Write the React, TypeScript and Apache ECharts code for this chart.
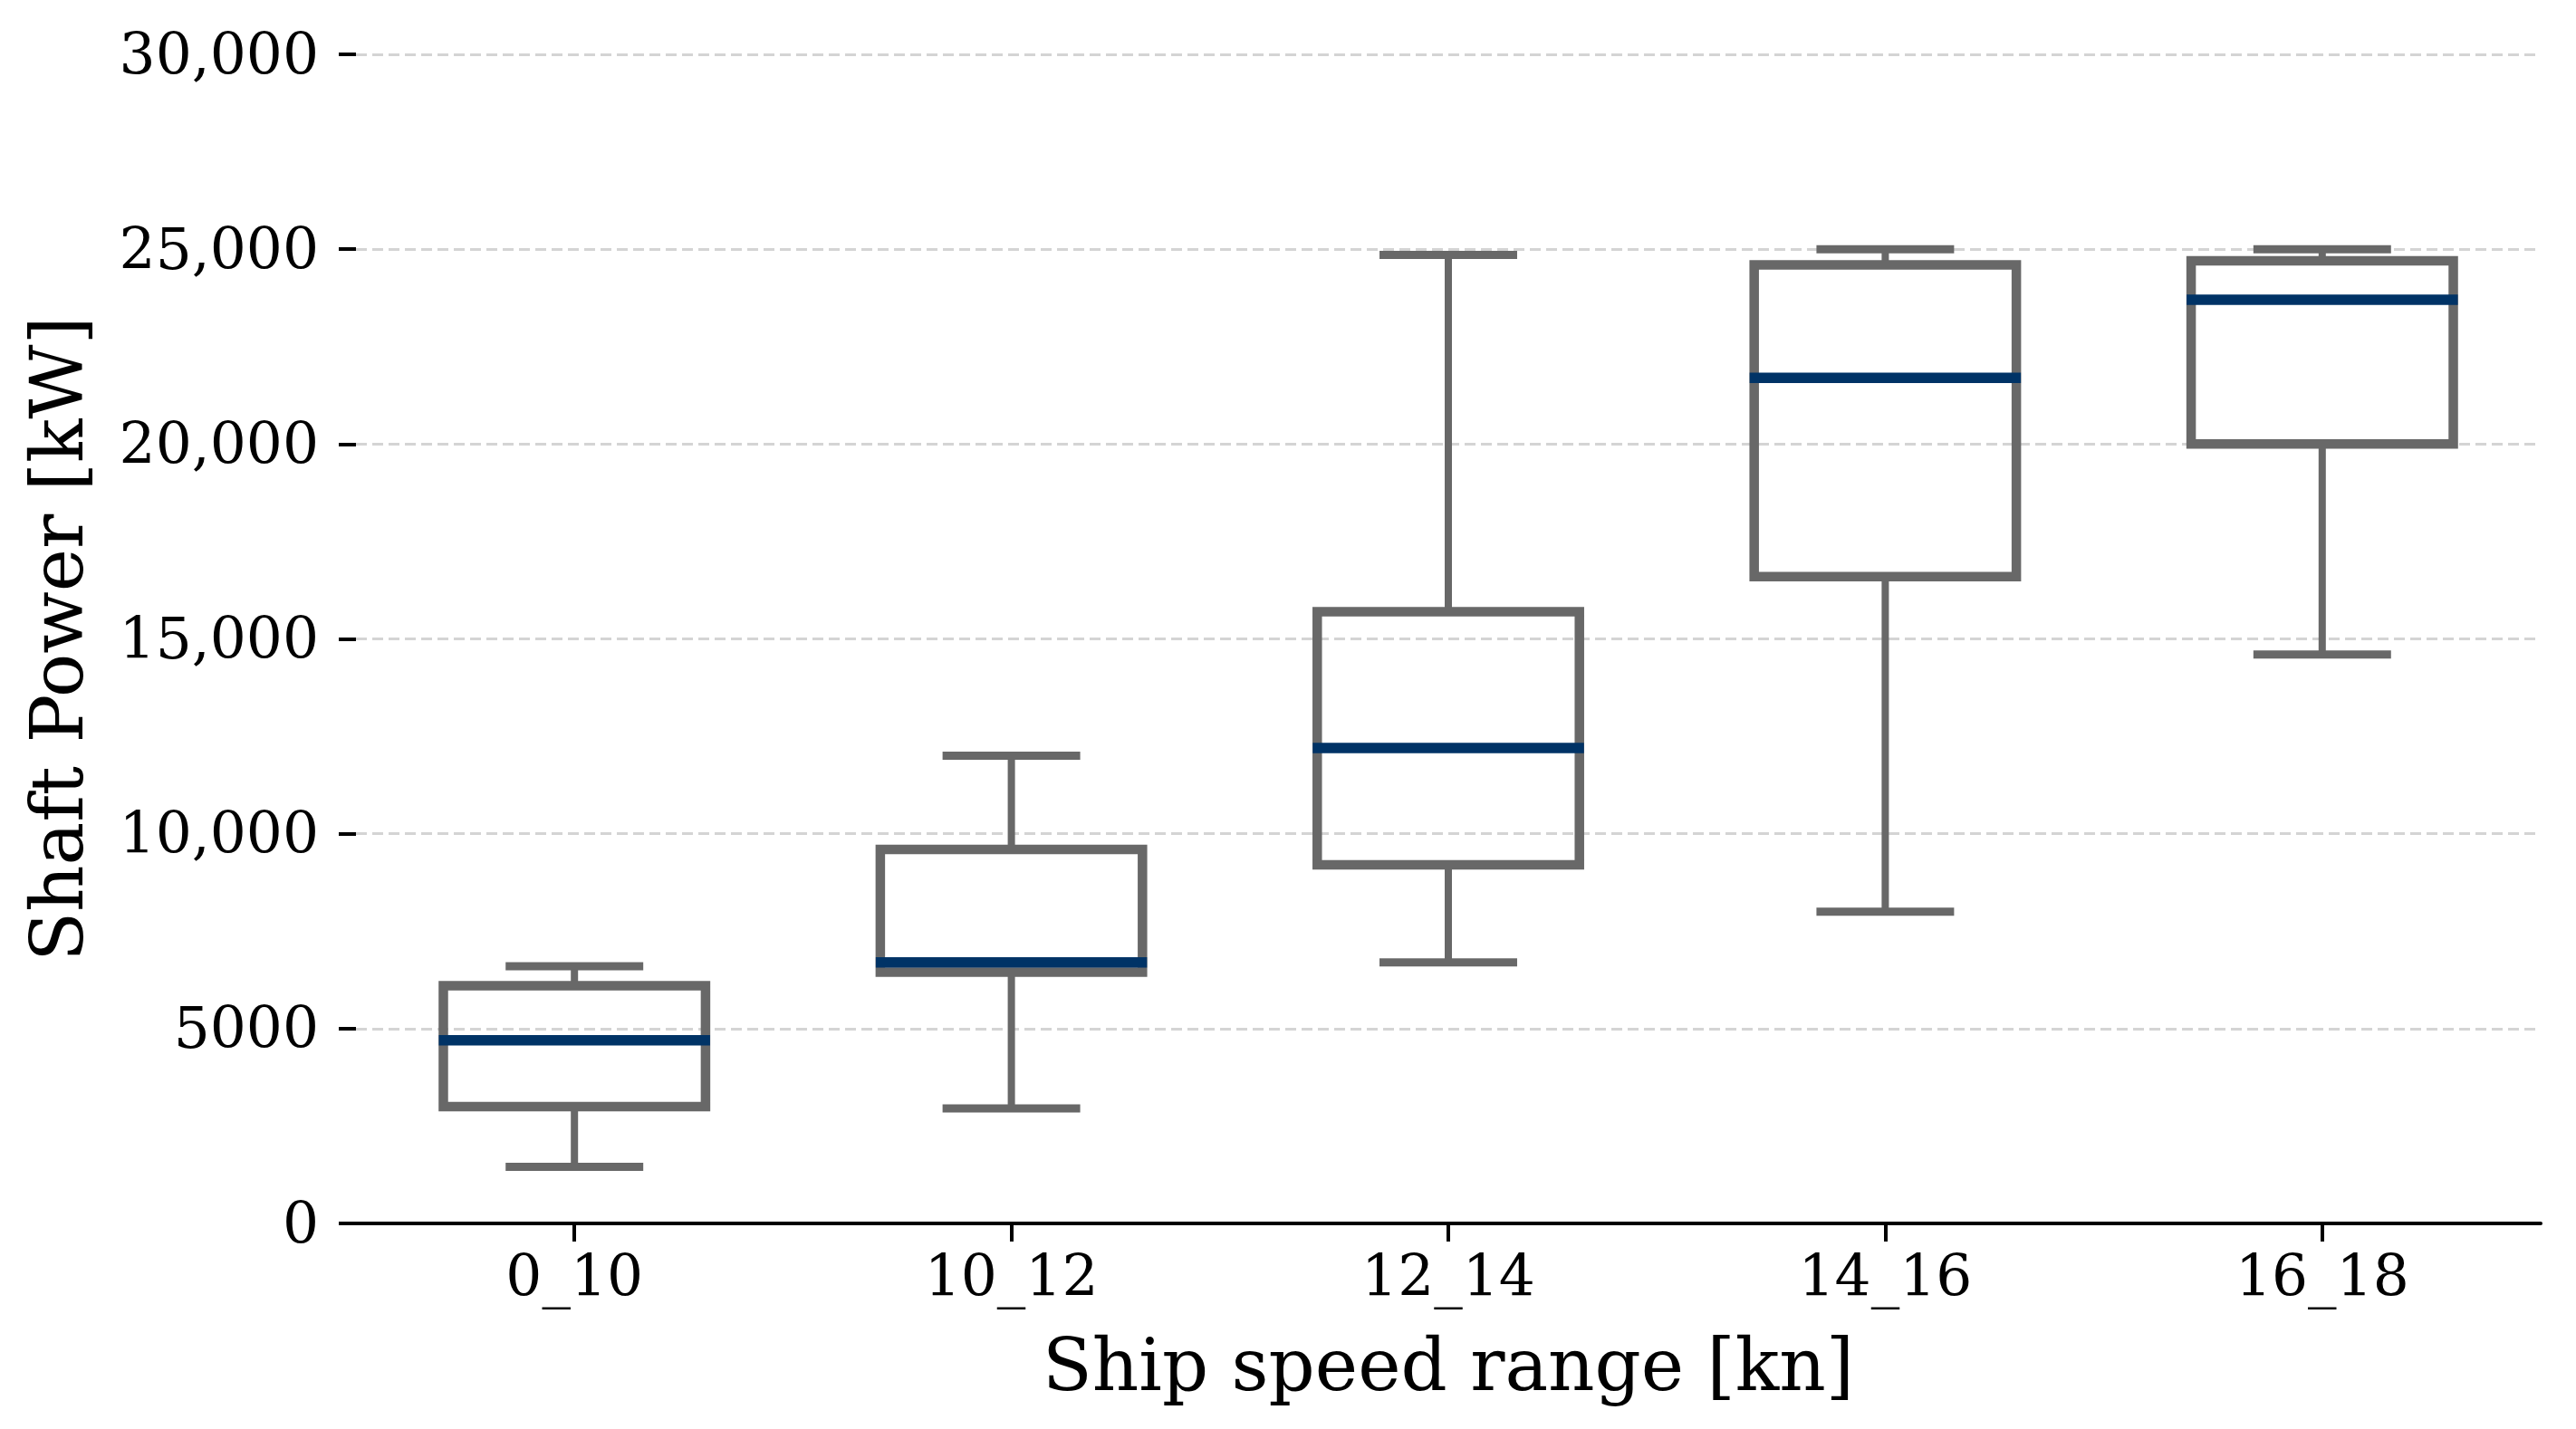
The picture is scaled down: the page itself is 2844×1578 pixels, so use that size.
import * as echarts from "echarts";
import { useEffect, useRef } from "react";

// speed bins on the x axis
const categories = ["0_10", "10_12", "12_14", "14_16", "16_18"];

// box statistics per bin, shaft power in kW
const whiskerLow = [1450, 2950, 6700, 8000, 14600];
const q1 = [3000, 6450, 9200, 16600, 20000];
const median = [4700, 6700, 12200, 21700, 23700];
const q3 = [6100, 9600, 15700, 24600, 24700];
const whiskerHigh = [6600, 12000, 24850, 25000, 25000];

// y tick labels (matplotlib writes 5000 without a comma)
const yTickLabels = ["0", "5000", "10,000", "15,000", "20,000", "25,000", "30,000"];

const BOX_GRAY = "#686868";
const MEDIAN_BLUE = "#003366";
const FONT = "DejaVu Serif";

export default function App() {
  const chartRef = useRef<HTMLDivElement | null>(null);

  useEffect(() => {
    if (!chartRef.current) return;
    const chart = echarts.init(chartRef.current, null, { renderer: "svg" });

    const boxData = categories.map((_, i) => [i, whiskerLow[i], q1[i], median[i], q3[i], whiskerHigh[i]]);

    chart.setOption({
      animation: false,
      backgroundColor: "#ffffff",
      grid: { left: 393, right: 39, top: 60, bottom: 227 },
      xAxis: {
        type: "category",
        data: categories,
        boundaryGap: true,
        name: "Ship speed range [kn]",
        nameLocation: "middle",
        nameGap: 116,
        nameTextStyle: { fontFamily: FONT, fontSize: 80, color: "#000" },
        axisLine: { show: true, lineStyle: { color: "#000", width: 4 } },
        axisTick: { show: true, alignWithLabel: true, length: 20, lineStyle: { color: "#000", width: 4 } },
        axisLabel: { fontFamily: FONT, fontSize: 63, color: "#000", margin: 27 },
        splitLine: { show: false },
      },
      yAxis: {
        type: "value",
        min: 0,
        max: 30000,
        interval: 5000,
        name: "Shaft Power [kW]",
        nameLocation: "middle",
        nameGap: 290,
        nameRotate: 90,
        nameTextStyle: { fontFamily: FONT, fontSize: 80, color: "#000" },
        axisLine: { show: false },
        axisTick: { show: true, length: 19, lineStyle: { color: "#000", width: 4 } },
        axisLabel: {
          fontFamily: FONT,
          fontSize: 63,
          color: "#000",
          margin: 41,
          formatter: (v: number) => yTickLabels[Math.round(v / 5000)] ?? String(v),
        },
        splitLine: { show: true, lineStyle: { color: "#d4d4d4", width: 3, type: [12, 6] } },
      },
      series: [
        {
          type: "custom",
          silent: true,
          data: boxData,
          encode: { x: 0, y: [1, 2, 3, 4, 5] },
          renderItem: (_params: any, api: any) => {
            const i = api.value(0);
            const [x, yLow] = api.coord([i, api.value(1)]);
            const yQ1 = api.coord([i, api.value(2)])[1];
            const yMed = api.coord([i, api.value(3)])[1];
            const yQ3 = api.coord([i, api.value(4)])[1];
            const yHigh = api.coord([i, api.value(5)])[1];
            const band = api.size([1, 0])[0];
            const boxW = band * 0.6;
            const capW = band * 0.315;
            const whisker = { stroke: BOX_GRAY, lineWidth: 8 };
            return {
              type: "group",
              children: [
                { type: "line", shape: { x1: x, y1: yQ1, x2: x, y2: yLow }, style: whisker },
                { type: "line", shape: { x1: x, y1: yQ3, x2: x, y2: yHigh }, style: whisker },
                { type: "line", shape: { x1: x - capW / 2, y1: yLow, x2: x + capW / 2, y2: yLow }, style: { stroke: BOX_GRAY, lineWidth: 9 } },
                { type: "line", shape: { x1: x - capW / 2, y1: yHigh, x2: x + capW / 2, y2: yHigh }, style: { stroke: BOX_GRAY, lineWidth: 9 } },
                {
                  type: "rect",
                  shape: { x: x - boxW / 2, y: yQ3, width: boxW, height: yQ1 - yQ3 },
                  style: { fill: "none", stroke: BOX_GRAY, lineWidth: 10.5 },
                },
                {
                  type: "line",
                  shape: { x1: x - boxW / 2 - 5, y1: yMed, x2: x + boxW / 2 + 5, y2: yMed },
                  style: { stroke: MEDIAN_BLUE, lineWidth: 11.5 },
                },
              ],
            };
          },
        },
      ],
    });

    return () => {
      chart.dispose();
    };
  }, []);

  return (
    <div
      ref={chartRef}
      style={{ position: "fixed", left: 0, top: 0, width: 2844, height: 1578, background: "#fff" }}
    />
  );
}
